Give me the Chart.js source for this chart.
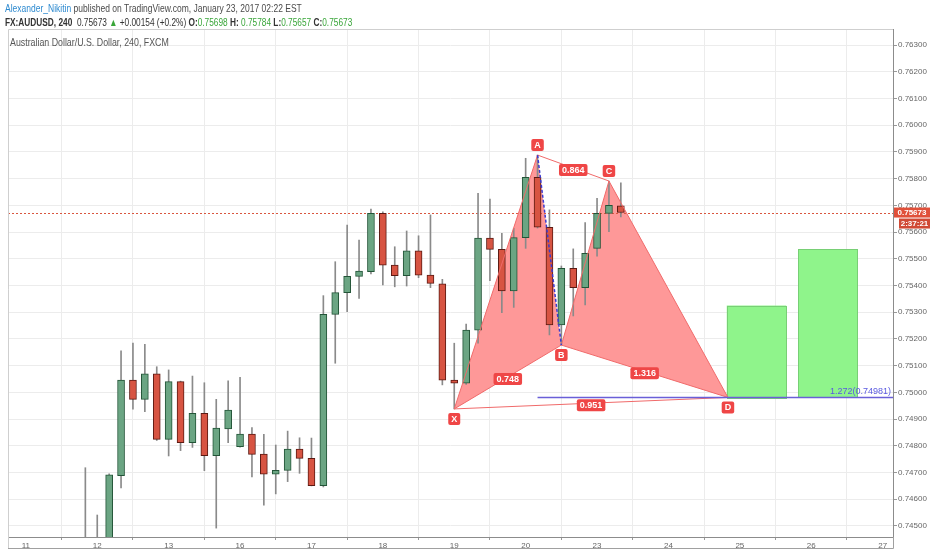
<!DOCTYPE html>
<html>
<head>
<meta charset="utf-8">
<script src="https://cdn.jsdelivr.net/npm/chart.js@4.4.0/dist/chart.umd.min.js"></script>
<style>
  html, body { margin: 0; padding: 0; background: #fff; }
  #wrap { position: relative; width: 932px; height: 550px; overflow: hidden; }
  canvas { position: absolute; left: 0; top: 0; }
  .txt { position: absolute; white-space: nowrap; font-family: "Liberation Sans", Arial, sans-serif; color: #4a4a4a; transform-origin: 0 0; }
  .g { color: #3aa63a; }
</style>
</head>
<body>
<div id="wrap">
  <canvas id="chart" width="932" height="550"></canvas>
  <div class="txt" style="left:5px;top:2px;font-size:10.5px;transform:scaleX(0.81)"><span style="color:#2f8bd0">Alexander_Nikitin</span> published on TradingView.com, January 23, 2017 02:22 EST</div>
  <div class="txt" style="left:5px;top:16px;font-size:10.5px;color:#333;transform:scaleX(0.79)"><b>FX:AUDUSD, 240</b>&nbsp; 0.75673 <span class="g">&#9650;</span> +0.00154 (+0.2%) <b>O:</b><span class="g">0.75698</span> <b>H:</b> <span class="g">0.75784</span> <b>L:</b><span class="g">0.75657</span> <b>C:</b><span class="g">0.75673</span></div>
  <div class="txt" style="left:10px;top:36px;font-size:10.5px;color:#555;transform:scaleX(0.84)">Australian Dollar/U.S. Dollar, 240, FXCM</div>
</div>
<script>
// 4h candles, index 0 = start of the 11th (6 candles per trading day)
const candleIdx = [5, 6, 7, 8, 9, 10, 11, 12, 13, 14, 15, 16, 17, 18, 19, 20, 21, 22, 23, 24, 25, 26, 27, 28, 29,
  30, 31, 32, 33, 34, 35, 36, 37, 38, 39, 40, 41, 42, 43, 44, 45, 46, 47, 48, 49, 50];
const opens = [0.74440, 0.74420, 0.74410, 0.74688, 0.75046, 0.74974, 0.75069, 0.74824, 0.75040, 0.74812,
  0.74922, 0.74763, 0.74863, 0.74797, 0.74844, 0.74769, 0.74694, 0.74708, 0.74788, 0.74753,
  0.74651, 0.75292, 0.75373, 0.75434, 0.75452, 0.75670, 0.75476, 0.75437, 0.75530, 0.75439,
  0.75406, 0.75046, 0.75034, 0.75233, 0.75577, 0.75535, 0.75380, 0.75579, 0.75805, 0.75618,
  0.75252, 0.75464, 0.75392, 0.75539, 0.75670, 0.75698];
const highs = [0.74718, 0.74541, 0.74695, 0.75155, 0.75184, 0.75180, 0.75096, 0.75084, 0.75042, 0.75061,
  0.75036, 0.74974, 0.75043, 0.75056, 0.74868, 0.74843, 0.74803, 0.74855, 0.74830, 0.74829,
  0.75362, 0.75489, 0.75626, 0.75570, 0.75686, 0.75676, 0.75545, 0.75604, 0.75586, 0.75664,
  0.75423, 0.75184, 0.75256, 0.75745, 0.75723, 0.75595, 0.75614, 0.75876, 0.75888, 0.75683,
  0.75473, 0.75537, 0.75635, 0.75726, 0.75791, 0.75784];
const lows = [0.74400, 0.74380, 0.74380, 0.74642, 0.74937, 0.74928, 0.74820, 0.74762, 0.74782, 0.74794,
  0.74707, 0.74492, 0.74812, 0.74795, 0.74684, 0.74578, 0.74620, 0.74666, 0.74697, 0.74650,
  0.74646, 0.75109, 0.75302, 0.75352, 0.75443, 0.75402, 0.75395, 0.75398, 0.75429, 0.75392,
  0.75028, 0.74938, 0.75030, 0.75184, 0.75418, 0.75298, 0.75318, 0.75539, 0.75615, 0.75215,
  0.75177, 0.75286, 0.75327, 0.75510, 0.75601, 0.75657];
const closes = [0.74420, 0.74400, 0.74691, 0.75046, 0.74974, 0.75069, 0.74824, 0.75040, 0.74812, 0.74922,
  0.74763, 0.74866, 0.74934, 0.74844, 0.74768, 0.74694, 0.74708, 0.74788, 0.74753, 0.74651,
  0.75292, 0.75373, 0.75434, 0.75454, 0.75670, 0.75476, 0.75437, 0.75530, 0.75439, 0.75408,
  0.75046, 0.75034, 0.75233, 0.75577, 0.75535, 0.75380, 0.75579, 0.75805, 0.75618, 0.75252,
  0.75464, 0.75392, 0.75520, 0.75670, 0.75700, 0.75673];

const dayTicks = [0, 6, 12, 18, 24, 30, 36, 42, 48, 54, 60, 66, 72];
const dayLabels = ["11", "12", "13", "16", "17", "18", "19", "20", "23", "24", "25", "26", "27"];
const priceTicks = [0.745, 0.746, 0.747, 0.748, 0.749, 0.750, 0.751, 0.752, 0.753, 0.754,
  0.755, 0.756, 0.757, 0.758, 0.759, 0.760, 0.761, 0.762, 0.763];

// harmonic pattern points X A B C D
const pointNames = ["X", "A", "B", "C", "D"];
const pointIdx = [36, 43, 45, 49, 59];
const pointPrice = [0.74938, 0.75888, 0.75177, 0.75791, 0.74981];
const ratioLabels = ["0.748", "0.864", "1.316", "0.951"]; // XB, AC, BD, XD

// target boxes
const boxStart = [58.9, 64.9];
const boxEnd = [63.9, 69.9];
const boxTop = [0.75325, 0.75535];
const boxBottom = [0.74981, 0.74981];

const levelStart = 43;
const levelPrice = 0.74981;
const levelLabel = "1.272(0.74981)";
const lastPrice = 0.75673;
const countdown = "2:37:21";

const upFill = "#6ba583", upLine = "#225437";
const dnFill = "#d75442", dnLine = "#5b1a13";
const isUp = candleIdx.map((_, k) => closes[k] >= opens[k]);

function labelBox(ctx, text, cx, cy, minW) {
  ctx.font = "bold 9px 'Liberation Sans', Arial, sans-serif";
  const w = Math.max(minW || 0, ctx.measureText(text).width + 6);
  const h = 12;
  ctx.fillStyle = "#ef4646";
  ctx.beginPath();
  ctx.roundRect(cx - w / 2, cy - h / 2, w, h, 2);
  ctx.fill();
  ctx.fillStyle = "#fff";
  ctx.textAlign = "center";
  ctx.textBaseline = "middle";
  ctx.fillText(text, cx, cy + 0.5);
}

const overlay = {
  id: "overlay",
  beforeDatasetsDraw(chart) {
    const { ctx, chartArea: a, scales: { x, y } } = chart;
    const P = pointIdx.map((v, k) => [x.getPixelForValue(v), y.getPixelForValue(pointPrice[k])]);
    ctx.save();
    ctx.beginPath();
    ctx.rect(a.left, a.top, a.right - a.left, a.bottom - a.top);
    ctx.clip();
    ctx.fillStyle = "#fe9898";
    [[0, 1, 2], [2, 3, 4]].forEach((t) => {
      ctx.beginPath();
      ctx.moveTo(P[t[0]][0], P[t[0]][1]);
      ctx.lineTo(P[t[1]][0], P[t[1]][1]);
      ctx.lineTo(P[t[2]][0], P[t[2]][1]);
      ctx.closePath();
      ctx.fill();
    });
    // current price dotted line
    const py = Math.round(y.getPixelForValue(lastPrice)) + 0.5;
    ctx.strokeStyle = "#d9563f";
    ctx.lineWidth = 1;
    ctx.setLineDash([2, 2]);
    ctx.beginPath();
    ctx.moveTo(a.left, py);
    ctx.lineTo(a.right, py);
    ctx.stroke();
    ctx.restore();
  },
  afterDatasetsDraw(chart) {
    const { ctx, chartArea: a, scales: { x, y } } = chart;
    const P = pointIdx.map((v, k) => [x.getPixelForValue(v), y.getPixelForValue(pointPrice[k])]);
    ctx.save();
    ctx.beginPath();
    ctx.rect(a.left, a.top, a.right - a.left, a.bottom - a.top);
    ctx.clip();

    // target boxes
    boxStart.forEach((s, k) => {
      const x0 = x.getPixelForValue(s), x1 = x.getPixelForValue(boxEnd[k]);
      const y0 = y.getPixelForValue(boxTop[k]), y1 = y.getPixelForValue(boxBottom[k]);
      ctx.fillStyle = "#8ff48b";
      ctx.fillRect(x0, y0, x1 - x0, y1 - y0);
      ctx.strokeStyle = "#78cf75";
      ctx.lineWidth = 1;
      ctx.strokeRect(Math.round(x0) + 0.5, Math.round(y0) + 0.5, Math.round(x1 - x0), Math.round(y1 - y0));
    });

    // pattern edges
    ctx.strokeStyle = "#f06a6a";
    ctx.lineWidth = 1;
    [[0, 1], [0, 2], [2, 3], [3, 4], [2, 4], [1, 3], [0, 4]].forEach(([i, j]) => {
      ctx.beginPath();
      ctx.moveTo(P[i][0], P[i][1]);
      ctx.lineTo(P[j][0], P[j][1]);
      ctx.stroke();
    });
    // A-B leg dashed
    ctx.strokeStyle = "#3b3bd0";
    ctx.lineWidth = 1.5;
    ctx.setLineDash([3, 2]);
    ctx.beginPath();
    ctx.moveTo(P[1][0], P[1][1]);
    ctx.lineTo(P[2][0], P[2][1]);
    ctx.stroke();
    ctx.setLineDash([]);

    // 1.272 projection level
    const ly = y.getPixelForValue(levelPrice);
    ctx.strokeStyle = "#6a5fd8";
    ctx.lineWidth = 1.5;
    ctx.beginPath();
    ctx.moveTo(x.getPixelForValue(levelStart), ly);
    ctx.lineTo(a.right, ly);
    ctx.stroke();
    ctx.font = "9px 'Liberation Sans', Arial, sans-serif";
    ctx.fillStyle = "#5a5ae0";
    ctx.textAlign = "right";
    ctx.textBaseline = "bottom";
    ctx.fillText(levelLabel, a.right - 2, ly - 1);

    // ratio labels at leg midpoints
    [[0, 2], [1, 3], [2, 4], [0, 4]].forEach(([i, j], k) => {
      labelBox(ctx, ratioLabels[k], (P[i][0] + P[j][0]) / 2, (P[i][1] + P[j][1]) / 2 + 2);
    });
    // point labels
    const above = [false, true, false, true, false];
    P.forEach((p, k) => {
      labelBox(ctx, pointNames[k], p[0], above[k] ? p[1] - 10 : p[1] + 10, 10);
    });
    ctx.restore();
  },
  afterDraw(chart) {
    const { ctx, chartArea: a, scales: { y } } = chart;
    ctx.save();
    ctx.strokeStyle = "#cfcfcf";
    ctx.lineWidth = 1;
    ctx.beginPath();
    ctx.moveTo(a.left + 0.5, chart.height - 1);
    ctx.lineTo(a.left + 0.5, a.top + 0.5);
    ctx.lineTo(a.right, a.top + 0.5);
    ctx.stroke();
    ctx.strokeStyle = "#a0a0a0";
    ctx.beginPath();
    ctx.moveTo(a.left, chart.height - 1.5);
    ctx.lineTo(a.right + 0.5, chart.height - 1.5);
    ctx.lineTo(a.right + 0.5, a.bottom);
    ctx.stroke();
    // last price tag + countdown
    const py = y.getPixelForValue(lastPrice);
    ctx.fillStyle = "#e0503a";
    ctx.fillRect(a.right + 1, py - 5, 36, 10);
    ctx.fillStyle = "#d04a36";
    ctx.fillRect(a.right + 6, py + 6, 31, 10);
    ctx.fillStyle = "#fff";
    ctx.font = "bold 8px 'Liberation Sans', Arial, sans-serif";
    ctx.textAlign = "center";
    ctx.textBaseline = "middle";
    ctx.fillText(lastPrice.toFixed(5), a.right + 19, py + 0.5);
    ctx.fillText(countdown, a.right + 21.5, py + 11.5);
    ctx.restore();
  }
};

new Chart(document.getElementById("chart"), {
  type: "bar",
  data: {
    datasets: [
      {
        label: "wick",
        data: candleIdx.map((v, k) => ({ x: v, y: [lows[k], highs[k]] })),
        backgroundColor: "#8a8a8a",
        barThickness: 1,
        grouped: false,
        order: 2
      },
      {
        label: "body",
        data: candleIdx.map((v, k) => ({ x: v, y: [opens[k], closes[k]] })),
        backgroundColor: isUp.map((u) => (u ? upFill : dnFill)),
        borderColor: isUp.map((u) => (u ? upLine : dnLine)),
        borderWidth: 1,
        borderSkipped: false,
        barThickness: 7,
        grouped: false,
        order: 1
      }
    ]
  },
  options: {
    responsive: false,
    animation: false,
    devicePixelRatio: 1,
    layout: { padding: { top: 29, left: 8, right: 0, bottom: 0 } },
    plugins: { legend: { display: false }, tooltip: { enabled: false } },
    scales: {
      x: {
        type: "linear",
        min: -1.5,
        max: 72.87,
        offset: false,
        afterBuildTicks: (s) => { s.ticks = dayTicks.map((v) => ({ value: v })); },
        afterFit: (s) => { s.height = 13; },
        grid: { color: "#ececec", tickLength: 3, tickColor: "#999" },
        border: { color: "#8c8c8c", width: 1 },
        ticks: {
          autoSkip: false,
          maxRotation: 0,
          padding: 1,
          color: "#666",
          font: { family: "'Liberation Sans', Arial, sans-serif", size: 8 },
          callback: (v, i) => dayLabels[i]
        }
      },
      y: {
        position: "right",
        min: 0.744587,
        max: 0.763599,
        afterBuildTicks: (s) => { s.ticks = priceTicks.map((v) => ({ value: v })); },
        afterFit: (s) => { s.width = 39; },
        grid: { color: "#ececec", tickLength: 4, tickColor: "#999" },
        border: { color: "#8c8c8c", width: 1 },
        ticks: {
          padding: 1,
          color: "#666",
          font: { family: "'Liberation Sans', Arial, sans-serif", size: 8 },
          callback: (v) => Number(v).toFixed(5)
        }
      }
    }
  },
  plugins: [overlay]
});
</script>
</body>
</html>
